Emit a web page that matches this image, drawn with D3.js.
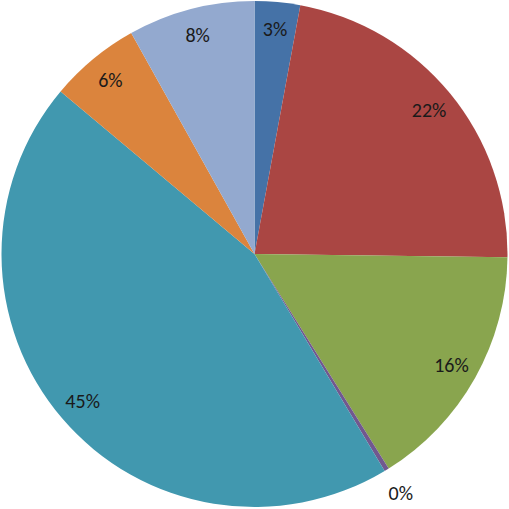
<!DOCTYPE html>
<html><head><meta charset="utf-8">
<script src="https://cdn.jsdelivr.net/npm/d3@7"></script>
<style>html,body{margin:0;padding:0;background:#fff;}svg{display:block;}</style>
</head><body>
<script>
const categories = ["A","B","C","D","E","F","G"];
const values = [2.9, 22.3, 15.9, 0.3, 44.7, 5.8, 8.1];
const labels = ["3%","22%","16%","0%","45%","6%","8%"];
const colors = ["#4572A7","#AA4643","#89A54E","#71588F","#4198AF","#DB843D","#93A9CF"];

const W = 509, H = 509, cx = 254.5, cy = 254, R = 253;
const svg = d3.select("body").append("svg").attr("width", W).attr("height", H);
const g = svg.append("g").attr("transform", `translate(${cx},${cy})`);
const pie = d3.pie().sort(null).value(d => d)(values);
const arc = d3.arc().innerRadius(0).outerRadius(R);
g.selectAll("path").data(pie).join("path")
  .attr("d", arc).attr("fill", (d,i) => colors[i]);

const labelArc = d3.arc().innerRadius(226).outerRadius(226);
const outArc = d3.arc().innerRadius(280).outerRadius(280);
g.selectAll("text").data(pie).join("text")
  .attr("transform", (d,i) => `translate(${(i===3?outArc:labelArc).centroid(d)})`)
  .attr("text-anchor","middle").attr("dy","0.35em")
  .attr("font-family","Carlito, Lato, 'Open Sans', sans-serif")
  .attr("font-size", 20).attr("font-weight", 400).attr("fill","#1a1a1a")
  .text((d,i) => labels[i]);
</script>
</body></html>
